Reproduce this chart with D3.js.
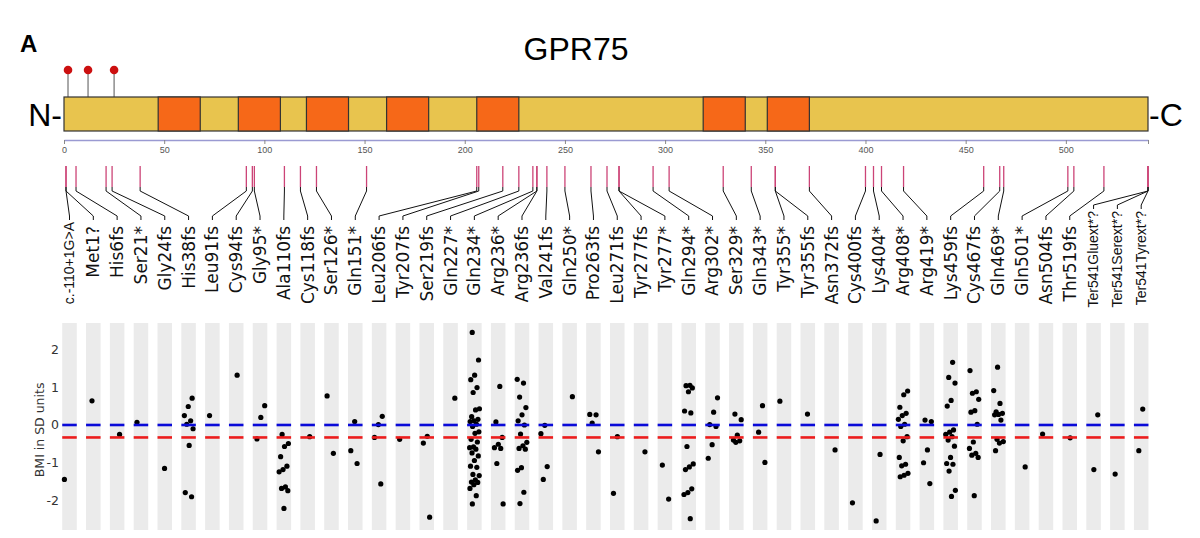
<!DOCTYPE html>
<html lang="en">
<head>
    <meta charset="UTF-8">
    <title>GPR75</title>
    <script src="https://cdnjs.cloudflare.com/ajax/libs/d3/7.8.5/d3.min.js"></script>
    <style>
        body {
            margin: 0;
            background-color: white;
        }
        svg {
            display: block;
        }
        .title {
            font-family: 'Liberation Sans', Arial, sans-serif;
            font-size: 32px;
        }
        .panel-letter {
            font-family: 'Liberation Sans Narrow', 'Liberation Sans', Arial, sans-serif;
            font-weight: bold;
            font-size: 24px;
        }
        .terminus {
            font-family: 'Liberation Sans', Arial, sans-serif;
            font-size: 32px;
        }
        .aa-axis text {
            font-family: 'Liberation Sans', Arial, sans-serif;
            font-size: 9px;
            fill: #555;
        }
        .mut-label {
            font-family: 'DejaVu Sans', Verdana, sans-serif;
            font-size: 17px;
            fill: #111;
        }
        .mut-label.small {
            font-family: 'Liberation Sans', Arial, sans-serif;
            font-size: 14px;
        }
        .y-tick, .y-title {
            font-family: 'DejaVu Sans', Verdana, sans-serif;
            font-size: 12.5px;
            fill: #333;
        }
    </style>
</head>
<body>
    <div id="chart"></div>

    <script>
        // protein model
        const proteinLength = 541;
        const tmDomains = [[47, 68], [87, 108], [121, 142], [161, 182], [206, 227], [319, 340], [351, 372]];
        const siteMarks = [2, 12, 25];
        const aaTicks = [0, 50, 100, 150, 200, 250, 300, 350, 400, 450, 500];

        // variants, in the order they are listed
        const variantLabels = [
            "c.-110+1G>A", "Met1?", "His6fs", "Ser21*", "Gly24fs", "His38fs", "Leu91fs", "Cys94fs",
            "Gly95*", "Ala110fs", "Cys118fs", "Ser126*", "Gln151*", "Leu206fs", "Tyr207fs", "Ser219fs",
            "Gln227*", "Gln234*", "Arg236*", "Arg236fs", "Val241fs", "Gln250*", "Pro263fs", "Leu271fs",
            "Tyr277fs", "Tyr277*", "Gln294*", "Arg302*", "Ser329*", "Gln343*", "Tyr355*", "Tyr355fs",
            "Asn372fs", "Cys400fs", "Lys404*", "Arg408*", "Arg419*", "Lys459fs", "Cys467fs", "Gln469*",
            "Gln501*", "Asn504fs", "Thr519fs", "Ter541Gluext*?", "Ter541Serext*?", "Ter541Tyrext*?"
        ];
        const variantResidues = [
            1, 1, 6, 21, 24, 38, 91, 94, 95, 110, 118, 126, 151, 206, 207, 219,
            227, 234, 236, 236, 241, 250, 263, 271, 277, 277, 294, 302, 329, 343, 355, 355,
            372, 400, 404, 408, 419, 459, 467, 469, 501, 504, 519, 541, 541, 541
        ];
        const smallLabels = ["c.-110+1G>A", "Ter541Gluext*?", "Ter541Serext*?", "Ter541Tyrext*?"];

        // BMI (SD units) of carriers, one list per variant
        const bmiValues = [
            [-1.44],
            [0.64],
            [-0.25],
            [0.07],
            [-1.15],
            [0.71, 0.49, 0.25, 0.11, 0.02, -0.10, -0.54, -1.79, -1.90],
            [0.25],
            [1.32],
            [0.51, 0.20, -0.37],
            [-0.25, -0.49, -0.57, -0.84, -1.09, -1.18, -1.24, -1.64, -1.68, -1.74, -2.21],
            [-0.31],
            [0.77, -0.75],
            [0.09, -0.68, -1.02],
            [0.23, 0.01, -0.33, -1.56],
            [-0.38],
            [-0.30, -0.48, -2.44],
            [0.71],
            [2.45, 1.72, 1.32, 1.20, 0.99, 0.86, 0.43, 0.40, 0.22, 0.15, 0.11, 0.09, 0.02, -0.04,
             -0.18, -0.22, -0.38, -0.45, -0.58, -0.60, -0.64, -0.74, -0.82, -0.94, -1.09, -1.12,
             -1.31, -1.34, -1.45, -1.51, -1.52, -1.58, -1.68, -1.87, -2.09],
            [1.02, 0.08, -0.33, -0.51, -0.60, -0.62, -1.02, -2.09],
            [1.21, 1.11, 0.74, 0.46, 0.27, 0.11, 0.00, -0.24, -0.46, -0.55, -0.62, -0.64, -1.13, -1.20, -1.78, -2.08],
            [-0.01, -0.23, -1.10, -1.44],
            [0.75],
            [0.28, 0.27, 0.05, -0.71],
            [-0.31, -1.81],
            [-0.71],
            [-1.06, -1.96],
            [1.05, 1.04, 0.98, 0.88, 0.37, 0.32, -0.57, -1.03, -1.11, -1.18, -1.69, -1.79, -1.84, -2.48],
            [0.72, 0.34, 0.01, -0.04, -0.52, -0.88],
            [0.29, 0.14, -0.27, -0.40, -0.42, -0.46],
            [0.51, -0.19, -0.99],
            [0.63],
            [0.29],
            [-0.66],
            [-2.06],
            [-0.78, -2.54],
            [0.90, 0.80, 0.47, 0.31, 0.25, 0.15, 0.02, -0.04, -0.31, -0.42, -0.86, -1.04, -1.08, -1.28, -1.33, -1.37],
            [0.13, 0.09, -0.66, -1.00, -1.55],
            [1.66, 1.26, 1.11, 0.65, 0.50, -0.13, -0.19, -0.25, -0.31, -0.40, -0.56, -0.86, -1.02, -1.04, -1.22, -1.73, -1.89],
            [1.44, 0.88, 0.84, 0.68, 0.38, 0.34, 0.02, -0.45, -0.62, -0.75, -0.80, -0.86, -1.87],
            [1.53, 0.91, 0.57, 0.35, 0.31, 0.28, 0.27, 0.13, -0.38, -0.44, -0.48, -0.68],
            [-1.11],
            [-0.24],
            [-0.34],
            [0.27, -1.18],
            [-1.30],
            [0.42, -0.68]
        ];
        const yTicks = [-2, -1, 0, 1, 2];
        const referenceLevels = [
            {name: "population", value: 0, color: "#0a0ad8"},
            {name: "carriers", value: -0.33, color: "#ec1c1c"}
        ];

        const width = 1200, height = 538;

        const svg = d3.select("#chart")
            .append("svg")
            .attr("width", width)
            .attr("height", height);

        // ---- protein panel ----
        const xAA = d3.scaleLinear().domain([0, proteinLength]).range([64, 1148]);
        const barTop = 97, barH = 34;

        svg.append("text")
            .attr("class", "panel-letter")
            .attr("x", 20).attr("y", 52)
            .text("A");

        svg.append("text")
            .attr("class", "title")
            .attr("x", 576).attr("y", 60)
            .attr("text-anchor", "middle")
            .text("GPR75");

        svg.append("text")
            .attr("class", "terminus")
            .attr("x", xAA(0) - 2).attr("y", barTop + barH / 2 + 12)
            .attr("text-anchor", "end")
            .text("N-");

        svg.append("text")
            .attr("class", "terminus")
            .attr("x", xAA(proteinLength) + 1).attr("y", barTop + barH / 2 + 12)
            .text("-C");

        // lollipops
        const pins = svg.append("g");
        pins.selectAll("line")
            .data(siteMarks)
            .join("line")
            .attr("x1", d => xAA(d)).attr("x2", d => xAA(d))
            .attr("y1", 70).attr("y2", barTop)
            .attr("stroke", "#555")
            .attr("stroke-width", 1);
        pins.selectAll("circle")
            .data(siteMarks)
            .join("circle")
            .attr("cx", d => xAA(d)).attr("cy", 70)
            .attr("r", 4.3)
            .attr("fill", "#cc1010");

        // backbone + transmembrane helices
        svg.append("rect")
            .attr("x", xAA(0)).attr("y", barTop)
            .attr("width", xAA(proteinLength) - xAA(0)).attr("height", barH)
            .attr("fill", "#e8c44e")
            .attr("stroke", "#333")
            .attr("stroke-width", 1.2);

        svg.append("g").selectAll("rect")
            .data(tmDomains)
            .join("rect")
            .attr("x", d => xAA(d[0])).attr("y", barTop)
            .attr("width", d => xAA(d[1]) - xAA(d[0])).attr("height", barH)
            .attr("fill", "#f66818")
            .attr("stroke", "#333")
            .attr("stroke-width", 1.2);

        // residue axis
        const aaAxis = svg.append("g")
            .attr("class", "aa-axis")
            .attr("transform", "translate(0,140)")
            .call(d3.axisBottom(xAA)
                .tickValues(aaTicks.concat([proteinLength]))
                .tickFormat(d => aaTicks.includes(d) ? d : "")
                .tickSize(4)
                .tickSizeOuter(0)
                .tickPadding(3));
        aaAxis.select(".domain").attr("stroke", "#9a9ad2").attr("stroke-width", 1.5);
        aaAxis.selectAll(".tick line").attr("stroke", "#888");

        // ---- variant columns ----
        const colX = d3.scalePoint()
            .domain(d3.range(variantLabels.length))
            .range([69.5, 1141.2]);
        const bandW = colX.step() * 0.61;

        // residue markers
        svg.append("g").selectAll("line")
            .data(variantResidues)
            .join("line")
            .attr("x1", d => xAA(d)).attr("x2", d => xAA(d))
            .attr("y1", 166).attr("y2", 187)
            .attr("stroke", "#cc4477")
            .attr("stroke-width", 1.3);

        // connectors from residue to label
        const variants = variantLabels.map((label, i) => ({
            label, i, residue: variantResidues[i], small: smallLabels.includes(label) && label !== "c.-110+1G>A",
            first: label === "c.-110+1G>A"
        }));

        svg.append("g").selectAll("polyline")
            .data(variants)
            .join("polyline")
            .attr("points", d => {
                const x0 = xAA(d.residue), x1 = colX(d.i);
                const yEnd = d.small ? 205 : 216;
                return [[x0, 187], [x0, 191], [x1, yEnd], [x1, yEnd + 4]].join(" ");
            })
            .attr("fill", "none")
            .attr("stroke", "#111")
            .attr("stroke-width", 1);

        svg.append("g").selectAll("text")
            .data(variants)
            .join("text")
            .attr("class", d => (d.small || d.first) ? "mut-label small" : "mut-label")
            .attr("transform", d => `translate(${colX(d.i)},${d.small ? 211 : (d.first ? 222 : 226)}) rotate(-90)`)
            .attr("text-anchor", "end")
            .attr("dy", "0.35em")
            .text(d => d.label);

        // ---- BMI panel ----
        const yBMI = d3.scaleLinear().domain([-2.78, 2.7]).range([530, 323]);

        svg.append("g").selectAll("rect")
            .data(variants)
            .join("rect")
            .attr("x", d => colX(d.i) - bandW / 2)
            .attr("y", yBMI(2.7))
            .attr("width", bandW)
            .attr("height", yBMI(-2.78) - yBMI(2.7))
            .attr("fill", "#ebebeb");

        svg.append("g").selectAll("text")
            .data(yTicks)
            .join("text")
            .attr("class", "y-tick")
            .attr("x", 59)
            .attr("y", d => yBMI(d))
            .attr("dy", "0.36em")
            .attr("text-anchor", "end")
            .text(d => d);

        svg.append("text")
            .attr("class", "y-title")
            .attr("transform", `translate(44,${yBMI(-0.13)}) rotate(-90)`)
            .attr("text-anchor", "middle")
            .text("BMI in SD units");

        // carriers, spread across each column band
        const points = variants.flatMap(v => bmiValues[v.i].map((value, k) => ({
            value,
            x: colX(v.i) + (((k * 0.618034 + v.i * 0.37) % 1) - 0.5) * bandW * 0.7
        })));

        svg.append("g").selectAll("circle")
            .data(points)
            .join("circle")
            .attr("cx", d => d.x)
            .attr("cy", d => yBMI(d.value))
            .attr("r", 2.6)
            .attr("fill", "#000");

        // reference levels, drawn within each column
        referenceLevels.forEach(level => {
            svg.append("g").selectAll("line")
                .data(variants)
                .join("line")
                .attr("x1", d => colX(d.i) - bandW / 2)
                .attr("x2", d => colX(d.i) + bandW / 2)
                .attr("y1", yBMI(level.value))
                .attr("y2", yBMI(level.value))
                .attr("stroke", level.color)
                .attr("stroke-width", 2.6);
        });
    </script>
</body>
</html>
